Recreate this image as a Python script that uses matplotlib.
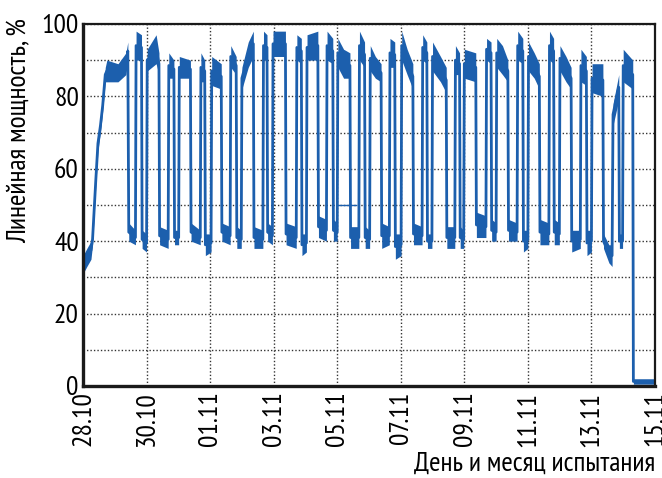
import numpy as np
import matplotlib
matplotlib.use('Agg')
import matplotlib.pyplot as plt
from matplotlib.ticker import MultipleLocator

plt.rcParams['font.family'] = ['PT Sans Narrow', 'DejaVu Sans']
plt.rcParams['font.stretch'] = 'condensed'

# ============================================
# DATA: time in days from 28.10, power band (low / high edge), %
# ============================================
DAY = [
    0.00, 0.12, 0.25, 0.30, 0.40, 0.47, 0.55, 0.62, 0.70, 0.75, 1.10, 1.35, 1.41,
    1.44, 1.65, 1.67, 1.84, 1.86, 2.00, 2.02, 2.30, 2.39, 2.41, 2.68, 2.70, 2.86, 2.88, 3.01, 3.03, 3.38, 3.40, 3.69, 3.71, 3.83, 3.85,
    4.03, 4.05, 4.35, 4.37, 4.63, 4.65, 4.82, 4.84, 4.98, 5.00, 5.20, 5.36, 5.38, 5.66, 5.68, 5.79, 5.81, 5.96,
    5.98, 6.37, 6.39, 6.71, 6.73, 6.87, 6.89, 7.03, 7.05, 7.39, 7.41, 7.66, 7.68, 7.86, 7.88, 8.00,
    8.02, 8.20, 8.40, 8.42, 8.68, 8.70, 8.86, 8.88, 9.02, 9.04, 9.20, 9.38, 9.40, 9.64, 9.66, 9.81, 9.83, 10.01,
    10.03, 10.20, 10.38, 10.40, 10.67, 10.69, 10.82, 10.84, 10.98, 11.00, 11.25, 11.43, 11.45, 11.70, 11.72, 11.85, 11.87, 11.98,
    12.00, 12.36, 12.38, 12.68, 12.70, 12.84, 12.86, 13.00, 13.02, 13.20, 13.37, 13.39, 13.66, 13.68, 13.84, 13.86, 14.00,
    14.02, 14.20, 14.36, 14.38, 14.66, 14.68, 14.81, 14.83, 14.99, 15.01, 15.20, 15.36, 15.38, 15.65, 15.67, 15.84, 15.86, 16.00,
    16.02, 16.36, 16.38, 16.55, 16.65, 16.68, 16.86, 16.88, 16.98, 17.00, 17.30, 17.32, 18.00,
]
P_LO = [
    31, 33, 35, 39, 55, 65, 70, 76, 84, 84, 84, 86, 90,
    40, 39, 90, 90, 38, 37, 87, 89, 86, 39, 38, 85, 85, 39, 39, 85, 85, 40, 39, 84, 84, 36,
    37, 83, 82, 40, 39, 88, 86, 38, 38, 82, 88, 91, 38, 38, 90, 90, 40, 39,
    91, 91, 39, 38, 90, 89, 36, 37, 90, 90, 41, 40, 90, 89, 40, 40,
    88, 85, 85, 38, 38, 90, 88, 38, 38, 87, 85, 84, 38, 39, 88, 88, 35, 36,
    90, 86, 82, 39, 39, 90, 89, 38, 38, 87, 84, 81, 38, 38, 86, 86, 38, 38,
    85, 84, 41, 41, 90, 89, 40, 40, 88, 86, 84, 40, 40, 90, 89, 37, 38,
    87, 85, 82, 39, 39, 90, 89, 39, 39, 87, 84, 82, 37, 38, 84, 83, 36, 37,
    81, 80, 38, 34, 33, 72, 79, 38, 38, 84, 82, 0.5, 0.5,
]
P_HI = [
    36, 38, 40, 42, 58, 69, 74, 79, 88, 90, 89, 92, 95,
    45, 43, 98, 97, 43, 42, 93, 97, 92, 44, 43, 92, 90, 43, 43, 91, 90, 45, 43, 92, 90, 42,
    42, 91, 89, 45, 44, 94, 91, 44, 43, 88, 95, 98, 44, 43, 98, 97, 45, 44,
    98, 98, 45, 44, 97, 96, 42, 42, 97, 98, 47, 46, 98, 96, 46, 45,
    96, 93, 92, 44, 44, 98, 95, 44, 43, 94, 91, 89, 45, 44, 96, 95, 42, 42,
    98, 93, 89, 45, 44, 97, 95, 42, 42, 95, 91, 88, 44, 44, 94, 92, 44, 43,
    93, 92, 48, 47, 96, 95, 46, 45, 96, 94, 90, 46, 45, 98, 96, 43, 43,
    95, 92, 89, 46, 45, 98, 96, 46, 45, 94, 91, 88, 43, 43, 93, 91, 43, 43,
    89, 89, 42, 39, 39, 78, 86, 42, 42, 93, 90, 2, 2,
]

# stray straight segment (data gap) around 05.11
GAP_DAY = [8.02, 8.60]
GAP_VAL = [50, 50]

TICK_DAYS = [0, 2, 4, 6, 8, 10, 12, 14, 16, 18]
TICK_LABELS = ['28.10', '30.10', '01.11', '03.11', '05.11', '07.11', '09.11', '11.11', '13.11', '15.11']

BLUE = '#1c5fad'

day = np.array(DAY)
lo = np.array(P_LO, dtype=float)
hi = np.array(P_HI, dtype=float)

fig = plt.figure(figsize=(6.62, 4.78), dpi=100)
ax = fig.add_axes([0.1254, 0.1925, 0.864, 0.7575])

ax.fill_between(day, lo, hi, color=BLUE, linewidth=0, zorder=3)
ax.plot(day, (lo + hi) / 2, color=BLUE, linewidth=2.0, zorder=3)
ax.plot(GAP_DAY, GAP_VAL, color=BLUE, linewidth=1.0, zorder=3)

ax.set_xlim(0, 18)
ax.set_ylim(0, 100)
ax.set_xticks(TICK_DAYS)
ax.set_xticklabels(TICK_LABELS, rotation=90)
ax.yaxis.set_major_locator(MultipleLocator(20))
ax.yaxis.set_minor_locator(MultipleLocator(10))
ax.tick_params(axis='both', which='both', length=0, labelsize=20)
ax.tick_params(axis='y', pad=3)
ax.tick_params(axis='x', pad=4)

ax.grid(True, which='both', linestyle=(0, (1, 1.5)), color='#333333', linewidth=1.0)

for side in ['top', 'right']:
    ax.spines[side].set_linewidth(1.6)
for side in ['left', 'bottom']:
    ax.spines[side].set_linewidth(2.4)
for s in ax.spines.values():
    s.set_color('#1a1a1a')
    s.set_zorder(5)

fig.text(0.03, 1 - 18 / 478, 'Линейная мощность, %', rotation=90,
         ha='center', va='top', fontsize=20)
fig.text(0.9894, 1 - 464 / 478, 'День и месяц испытания', ha='right', va='center', fontsize=20)

fig.savefig('out.png', dpi=100)
